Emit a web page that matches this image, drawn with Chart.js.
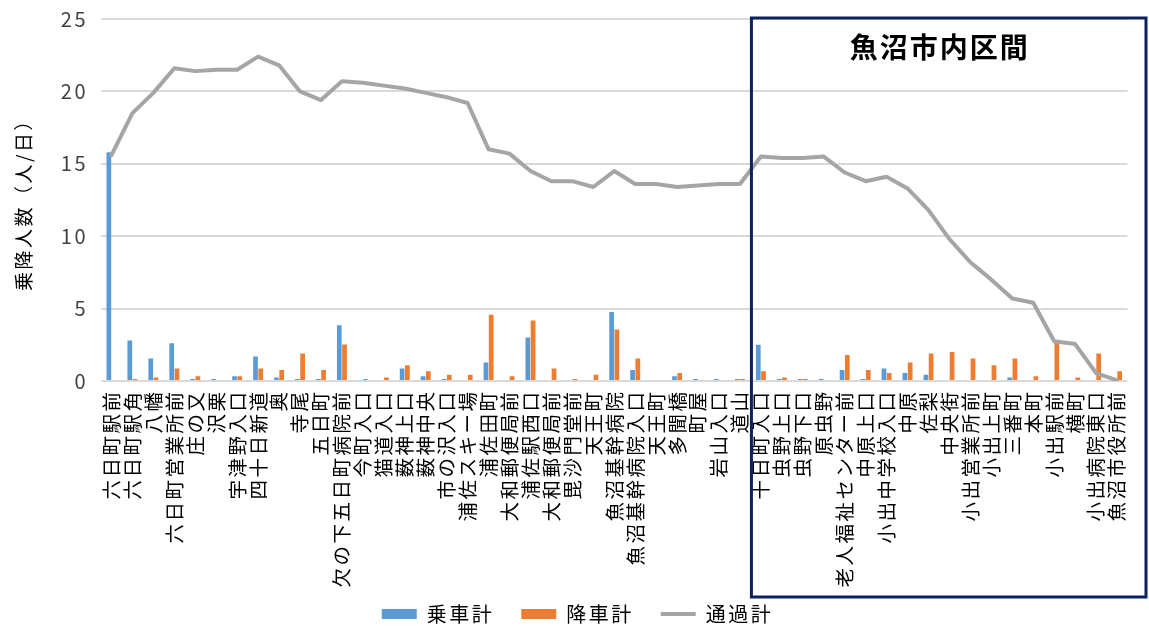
<!DOCTYPE html>
<html>
<head>
<meta charset="utf-8">
<script src="https://cdn.jsdelivr.net/npm/chart.js@4"></script>
<style>
  body { margin: 0; background: #fff; }
  #wrap { width: 1149px; height: 626px; }
</style>
</head>
<body>
<div id="wrap"><canvas id="busChart" width="1149" height="626"></canvas></div>
<script>
// bus stops along the route
const stops = ['六日町駅前', '六日町駅角', '八幡', '六日町営業所前', '庄の又', '沢栗', '宇津野入口', '四十日新道', '奥', '寺尾',
  '五日町', '欠の下五日町病院前', '今町入口', '猫道入口', '薮神上口', '薮神中央', '市の沢入口', '浦佐スキー場', '浦佐田町', '大和郵便局前',
  '浦佐駅西口', '大和郵便局前', '毘沙門堂前', '天王町', '魚沼基幹病院', '魚沼基幹病院入口', '天王町', '多聞橋', '町屋', '岩山入口',
  '道山', '十日町入口', '虫野上口', '虫野下口', '原虫野', '老人福祉センター前', '中原上口', '小出中学校入口', '中原', '佐梨',
  '中央街', '小出営業所前', '小出上町', '三番町', '本町', '小出駅前', '横町', '小出病院東口', '魚沼市役所前'];

// people per day
const boarding = [15.8, 2.8, 1.56, 2.6, 0.14, 0.14, 0.32, 1.7, 0.25, 0.14,
  0.14, 3.85, 0, 0, 0.87, 0.32, 0.14, 0, 1.28, 0,
  3.0, 0, 0, 0, 4.77, 0.76, 0, 0.32, 0.14, 0.14,
  0.14, 2.5, 0.14, 0.14, 0.14, 0.76, 0.14, 0.87, 0.55, 0.44,
  0, 0, 0, 0.25, 0, 0, 0, 0, 0];
const alighting = [0, 0.14, 0.25, 0.87, 0.32, 0, 0.32, 0.87, 0.76, 1.9,
  0.76, 2.52, 0.14, 0.25, 1.08, 0.67, 0.44, 0.44, 4.57, 0.32,
  4.17, 0.87, 0.14, 0.44, 3.55, 1.56, 0, 0.55, 0, 0,
  0.14, 0.67, 0.25, 0.14, 0, 1.79, 0.76, 0.55, 1.28, 1.9,
  2.0, 1.56, 1.08, 1.56, 0.32, 2.64, 0.25, 1.9, 0.67];
const passing = [15.6, 18.5, 19.9, 21.6, 21.4, 21.5, 21.5, 22.4, 21.8, 20.0,
  19.4, 20.7, 20.6, 20.4, 20.2, 19.9, 19.6, 19.2, 16.0, 15.7,
  14.5, 13.8, 13.8, 13.4, 14.5, 13.6, 13.6, 13.4, 13.5, 13.6,
  13.6, 15.5, 15.4, 15.4, 15.5, 14.4, 13.8, 14.1, 13.3, 11.8,
  9.8, 8.2, 7.0, 5.7, 5.4, 2.75, 2.55, 0.55, 0.05];

const yTicks = [0, 5, 10, 15, 20, 25];
const boxTitle = '魚沼市内区間';
const boxStart = 31; // first stop inside the city section

const jpFont = '"Noto Sans CJK JP", "Noto Sans", sans-serif';
const spacing = '2.5px';

// wider letter spacing for all chart text (measured and drawn)
const textSpacing = {
  id: 'textSpacing',
  beforeUpdate(chart) { chart.ctx.letterSpacing = spacing; },
  beforeDraw(chart) { chart.ctx.letterSpacing = spacing; }
};

// pull the legend a bit lower
const legendShift = {
  id: 'legendShift',
  beforeInit(chart) {
    const fit = chart.legend.fit;
    chart.legend.fit = function () {
      fit.call(this);
      this.height -= 8;
    };
  }
};

// frame + title for the city section
const sectionBox = {
  id: 'sectionBox',
  afterDraw(chart) {
    const ctx = chart.ctx;
    const x = chart.scales.x, y = chart.scales.y;
    const left = (x.getPixelForValue(boxStart - 1) + x.getPixelForValue(boxStart)) / 2 + 1;
    const right = chart.width - 3;
    const top = y.getPixelForValue(25) - 1;
    const bottom = chart.height - 29;
    ctx.save();
    ctx.strokeStyle = '#0b2260';
    ctx.lineWidth = 3;
    ctx.strokeRect(left, top, right - left, bottom - top);
    ctx.fillStyle = '#000';
    ctx.letterSpacing = '2px';
    ctx.font = 'bold 28px ' + jpFont;
    ctx.textAlign = 'center';
    ctx.textBaseline = 'middle';
    ctx.fillText(boxTitle, (left + right) / 2 - 9, top + 29);
    ctx.restore();
  }
};

const chartCanvas = document.querySelector('#busChart');
new Chart(chartCanvas, {
  type: 'bar',
  data: {
    labels: stops,
    datasets: [
      {
        label: '乗車計',
        data: boarding,
        backgroundColor: '#5b9bd5',
        categoryPercentage: 0.5,
        barPercentage: 0.9,
        order: 1
      },
      {
        label: '降車計',
        data: alighting,
        backgroundColor: '#ed7d31',
        categoryPercentage: 0.5,
        barPercentage: 0.9,
        order: 1
      },
      {
        type: 'line',
        label: '通過計',
        data: passing,
        borderColor: '#a5a5a5',
        backgroundColor: '#a5a5a5',
        borderWidth: 4,
        pointRadius: 0,
        tension: 0,
        borderJoinStyle: 'round',
        borderCapStyle: 'round',
        pointStyle: 'line',
        order: 0
      }
    ]
  },
  options: {
    responsive: false,
    animation: false,
    layout: { padding: { top: 0, right: 6, left: 12, bottom: 0 } },
    plugins: {
      tooltip: { enabled: false },
      legend: {
        position: 'bottom',
        labels: {
          usePointStyle: true,
          pointStyleWidth: 35,
          boxHeight: 10,
          padding: 8,
          color: '#000',
          font: { family: jpFont, size: 20 },
          sort: (a, b) => a.datasetIndex - b.datasetIndex,
          generateLabels(chart) {
            const items = Chart.defaults.plugins.legend.labels.generateLabels(chart);
            items.forEach(it => {
              if (it.datasetIndex < 2) {
                it.pointStyle = 'rect';
                it.lineWidth = 0;
                it.text = it.text + '\u2002\u2009'; // extra gap before next entry
              }
            });
            return items;
          }
        }
      }
    },
    scales: {
      x: {
        grid: { display: false, drawTicks: false },
        border: { display: false },
        ticks: {
          autoSkip: false,
          maxRotation: 90,
          minRotation: 90,
          color: '#000',
          padding: 8.5,
          font: { family: jpFont, size: 19.5 }
        }
      },
      y: {
        min: 0,
        max: 25,
        afterBuildTicks(axis) { axis.ticks = yTicks.map(v => ({ value: v })); },
        grid: { color: '#d9d9d9', lineWidth: 2, drawTicks: false },
        border: { display: false },
        ticks: {
          color: '#404040',
          padding: 13,
          font: { family: jpFont, size: 20, lineHeight: 0.6 }
        },
        title: {
          display: true,
          text: '乗降人数（人/日）',
          color: '#000',
          padding: { top: 0, bottom: 13 },
          font: { family: jpFont, size: 19 }
        }
      }
    }
  },
  plugins: [textSpacing, legendShift, sectionBox]
});
</script>
</body>
</html>
